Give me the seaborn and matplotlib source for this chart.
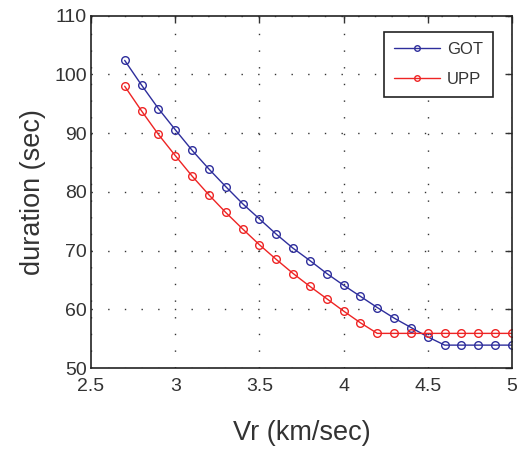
import numpy as np
import pandas as pd
import matplotlib
matplotlib.use("Agg")
import matplotlib.pyplot as plt
import seaborn as sns

# velocita di rottura (km/sec)
vr = [2.7, 2.8, 2.9, 3.0, 3.1, 3.2, 3.3, 3.4, 3.5, 3.6, 3.7, 3.8,
      3.9, 4.0, 4.1, 4.2, 4.3, 4.4, 4.5, 4.6, 4.7, 4.8, 4.9, 5.0]

durata_got = [102.4, 98.2, 94.2, 90.6, 87.1, 83.9, 80.9, 78.0, 75.4, 72.8, 70.4, 68.3,
              66.1, 64.1, 62.2, 60.3, 58.5, 56.9, 55.3, 53.9, 53.9, 53.9, 53.9, 53.9]
durata_upp = [98.0, 93.8, 89.8, 86.2, 82.7, 79.5, 76.5, 73.7, 71.0, 68.5, 66.1, 63.9,
              61.8, 59.7, 57.7, 55.9, 55.9, 55.9, 55.9, 55.9, 55.9, 55.9, 55.9, 55.9]

stazioni = ["GOT", "UPP"]
colori = {"GOT": "#2e2e9c", "UPP": "#ee2424"}

xticks = [2.5, 3, 3.5, 4, 4.5, 5]
xticklabels = ["2.5", "3", "3.5", "4", "4.5", "5"]
yticks = [50, 60, 70, 80, 90, 100, 110]

df = pd.DataFrame({
    "Vr": vr * 2,
    "durata": durata_got + durata_upp,
    "stazione": ["GOT"] * len(vr) + ["UPP"] * len(vr),
})

sns.set_style("white")
plt.rcParams["font.family"] = ["Liberation Sans", "DejaVu Sans"]

fig = plt.figure(figsize=(5.23, 4.51), dpi=100)
ax = fig.add_axes([0.174, 0.184, 0.805, 0.781])

sns.lineplot(data=df, x="Vr", y="durata", hue="stazione", hue_order=stazioni,
             palette=colori, marker="o", markersize=5.5, markerfacecolor="none",
             markeredgewidth=1.0, linewidth=1.0, ax=ax)

for mk, st in zip(ax.lines, stazioni):
    mk.set_markeredgecolor(colori[st])

ax.set_xlim(2.5, 5)
ax.set_ylim(50, 110)
ax.set_xticks(xticks)
ax.set_xticklabels(xticklabels)
ax.set_yticks(yticks)
ax.tick_params(direction="in", length=5, width=1, labelsize=14, colors="#333333",
               top=True, right=True, pad=3)
ax.tick_params(axis="x", pad=7)
ax.grid(True, color="#333333", linestyle=(0, (1, 11)), linewidth=1.0)
for sp in ax.spines.values():
    sp.set_color("#222222")
    sp.set_linewidth(1.2)

ax.set_xlabel("Vr (km/sec)", fontsize=19.5, color="#333333", labelpad=18)
ax.set_ylabel("duration (sec)", fontsize=19.5, color="#333333", labelpad=6)

leg = ax.legend(loc="upper right", bbox_to_anchor=(0.955, 0.955), borderaxespad=0,
                fontsize=12, fancybox=False, framealpha=1, edgecolor="#222222",
                handlelength=2.8, handletextpad=0.4, borderpad=0.6,
                labelspacing=0.9)
leg.get_frame().set_linewidth(1.2)
for h, st in zip(leg.legend_handles, stazioni):
    h.set_markerfacecolor("none")
    h.set_markeredgecolor(colori[st])
    h.set_markersize(4)
for t in leg.get_texts():
    t.set_color("#333333")

fig.savefig("out.png", dpi=100)
